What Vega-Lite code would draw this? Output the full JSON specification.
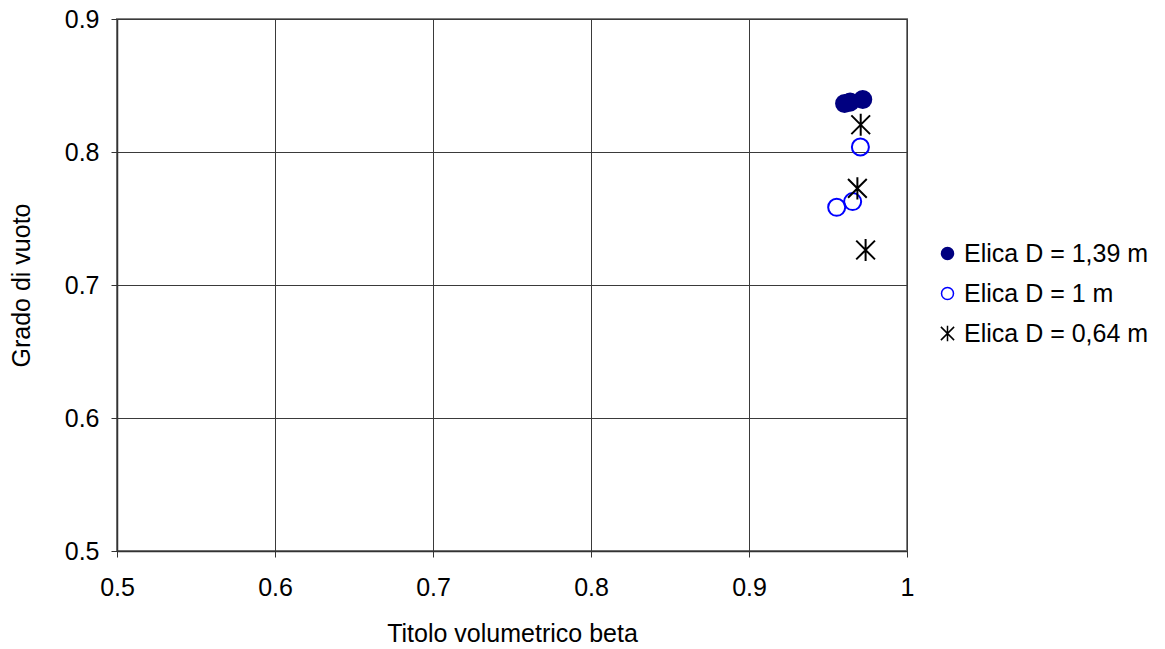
{
  "$schema": "https://vega.github.io/schema/vega-lite/v6.json",
  "width": 790,
  "height": 532,
  "autosize": {"type": "none"},
  "padding": {"left": 117, "top": 19, "right": 258, "bottom": 98},
  "background": "white",
  "config": {
    "font": "Liberation Sans",
    "view": {"stroke": "#808080", "strokeWidth": 2},
    "axis": {
      "labelFont": "Liberation Sans",
      "titleFont": "Liberation Sans",
      "labelFontSize": 25,
      "titleFontSize": 25,
      "labelColor": "#000",
      "titleColor": "#000",
      "titleFontWeight": "normal",
      "labelFlush": false,
      "domainColor": "#333",
      "domainWidth": 1.5,
      "tickColor": "#333",
      "tickSize": 6,
      "gridColor": "#3a3a3a",
      "gridWidth": 1,
      "gridOpacity": 1
    },
    "legend": {"labelFont": "Liberation Sans", "labelFontSize": 25, "labelColor": "#000", "labelLimit": 400}
  },
  "data": {
    "values": [
      {"beta": 0.9605, "alpha": 0.8364, "series": "Elica D = 1,39 m"},
      {"beta": 0.9640, "alpha": 0.8375, "series": "Elica D = 1,39 m"},
      {"beta": 0.9720, "alpha": 0.8395, "series": "Elica D = 1,39 m"},
      {"beta": 0.9705, "alpha": 0.8038, "series": "Elica D = 1 m"},
      {"beta": 0.9656, "alpha": 0.7627, "series": "Elica D = 1 m"},
      {"beta": 0.9555, "alpha": 0.7584, "series": "Elica D = 1 m"},
      {"beta": 0.9707, "alpha": 0.8205, "series": "Elica D = 0,64 m"},
      {"beta": 0.9686, "alpha": 0.7727, "series": "Elica D = 0,64 m"},
      {"beta": 0.9738, "alpha": 0.7263, "series": "Elica D = 0,64 m"}
    ]
  },
  "mark": {"type": "point", "filled": true, "strokeWidth": 2, "opacity": 1, "size": 290},
  "encoding": {
    "x": {
      "field": "beta", "type": "quantitative",
      "scale": {"domain": [0.5, 1], "nice": false, "zero": false},
      "axis": {"values": [0.5, 0.6, 0.7, 0.8, 0.9, 1.0], "format": ".1~f", "title": "Titolo volumetrico beta", "labelPadding": 18, "titlePadding": 21}
    },
    "y": {
      "field": "alpha", "type": "quantitative",
      "scale": {"domain": [0.5, 0.9], "nice": false, "zero": false},
      "axis": {"values": [0.5, 0.6, 0.7, 0.8, 0.9], "format": ".1f", "title": "Grado di vuoto", "labelPadding": 12, "titlePadding": 30}
    },
    "shape": {
      "field": "series", "type": "nominal",
      "scale": {
        "domain": ["Elica D = 1,39 m", "Elica D = 1 m", "Elica D = 0,64 m"],
        "range": ["circle", "circle", "M-1.1,-1.1L1.1,1.1M-1.1,1.1L1.1,-1.1M0,-1.3L0,1.3"]
      },
      "legend": {
        "title": null, "orient": "none", "legendX": 818, "legendY": 222,
        "symbolSize": 144, "symbolStrokeWidth": 1.5, "labelOffset": 4, "rowPadding": 14, "padding": 0
      }
    },
    "stroke": {
      "field": "series", "type": "nominal",
      "scale": {
        "domain": ["Elica D = 1,39 m", "Elica D = 1 m", "Elica D = 0,64 m"],
        "range": ["#000080", "#0000FF", "#000000"]
      },
      "legend": {
        "title": null, "orient": "none", "legendX": 818, "legendY": 222,
        "symbolSize": 144, "symbolStrokeWidth": 1.5, "labelOffset": 4, "rowPadding": 14, "padding": 0
      }
    },
    "fill": {
      "field": "series", "type": "nominal",
      "scale": {
        "domain": ["Elica D = 1,39 m", "Elica D = 1 m", "Elica D = 0,64 m"],
        "range": ["#000080", "transparent", "transparent"]
      },
      "legend": {
        "title": null, "orient": "none", "legendX": 818, "legendY": 222,
        "symbolSize": 144, "symbolStrokeWidth": 1.5, "labelOffset": 4, "rowPadding": 14, "padding": 0
      }
    }
  }
}
